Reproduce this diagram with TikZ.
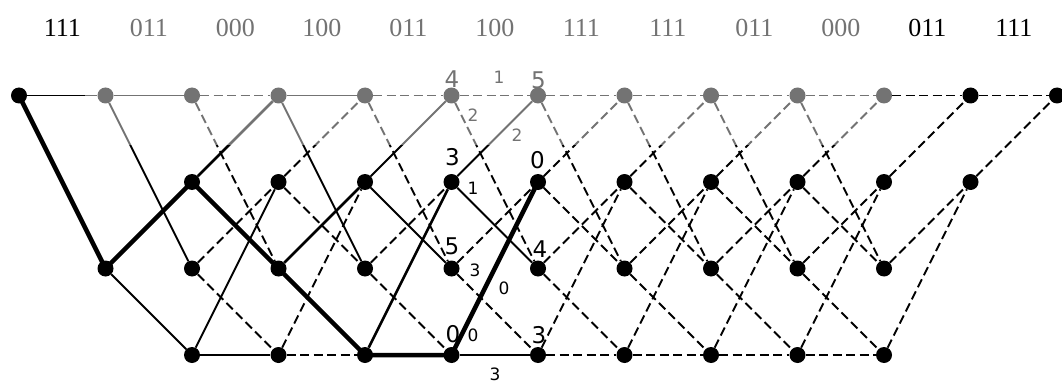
\documentclass[tikz,border=0pt]{standalone}
\usepackage{fontspec}
\setmainfont{Liberation Serif}
\newfontfamily\lblfont{DejaVu Sans}
\begin{document}
\begin{tikzpicture}[x=1pt,y=-1pt,
  dot/.style={circle,fill=black,inner sep=0pt,minimum size=16pt},
  solidedge/.style={line width=1.9pt},
  dashedge/.style={line width=1.9pt,dash pattern=on 9pt off 4.5pt},
  midedge/.style={line width=2.5pt},
  pathedge/.style={line width=4.5pt,line join=round,line cap=round},
  seq/.style={font=\fontsize{26}{26}\selectfont,inner sep=0pt},
  metric/.style={font=\lblfont\fontsize{23}{23}\selectfont,inner sep=0pt},
  branch/.style={font=\lblfont\fontsize{17}{17}\selectfont,inner sep=0pt},
  veil/.style={fill=white,opacity=0.45}
]
\useasboundingbox (0,0) rectangle (1062,385);

% trellis nodes
\node[dot] (n0-0) at (19,95.5) {};
\node[dot] (n1-0) at (105.5,95.5) {};
\node[dot] (n1-2) at (105.5,268.5) {};
\foreach \c in {2,...,10}
  \foreach \r in {0,...,3}
    \node[dot] (n\c-\r) at ({19+86.5*\c},{95.5+86.5*\r}) {};
\node[dot] (n11-0) at (970.5,95.5) {};
\node[dot] (n11-1) at (970.5,182) {};
\node[dot] (n12-0) at (1057,95.5) {};

% stage 0 -> 1
\draw[solidedge] (n0-0) -- (n1-0);
% stage 1 -> 2
\draw[solidedge] (n1-0) -- (n2-0);
\draw[solidedge] (n1-0) -- (n2-2);
\draw[solidedge] (n1-2) -- (n2-3);
% stage 2 -> 3
\draw[dashedge] (n2-0) -- (n3-0);
\draw[dashedge] (n2-0) -- (n3-2);
\draw[midedge] (n2-1) -- (n3-0);
\draw[dashedge] (n2-2) -- (n3-1);
\draw[dashedge] (n2-2) -- (n3-3);
\draw[solidedge] (n2-3) -- (n3-1);
\draw[solidedge] (n2-3) -- (n3-3);
% stage 3 -> 4
\draw[solidedge] (n3-0) -- (n4-0);
\draw[solidedge] (n3-0) -- (n4-2);
\draw[dashedge] (n3-1) -- (n4-0);
\draw[dashedge] (n3-1) -- (n4-2);
\draw[midedge] (n3-2) -- (n4-1);
\draw[dashedge] (n3-3) -- (n4-1);
\draw[dashedge] (n3-3) -- (n4-3);
% stage 4 -> 5
\draw[dashedge] (n4-0) -- (n5-0);
\draw[dashedge] (n4-0) -- (n5-2);
\draw[solidedge] (n4-1) -- (n5-0);
\draw[solidedge] (n4-1) -- (n5-2);
\draw[dashedge] (n4-2) -- (n5-1);
\draw[dashedge] (n4-2) -- (n5-3);
\draw[midedge] (n4-3) -- (n5-1);
% stage 5 -> 6
\draw[dashedge] (n5-0) -- (n6-0);
\draw[dashedge] (n5-0) -- (n6-2);
\draw[solidedge] (n5-1) -- (n6-0);
\draw[solidedge] (n5-1) -- (n6-2);
\draw[dashedge] (n5-2) -- (n6-1);
\draw[dashedge] (n5-2) -- (n6-3);
\draw[solidedge] (n5-3) -- (n6-3);
% stages 6 -> 10
\foreach \c in {6,...,9} {
  \pgfmathtruncatemacro\nx{\c+1}
  \draw[dashedge] (n\c-0) -- (n\nx-0);
  \draw[dashedge] (n\c-0) -- (n\nx-2);
  \draw[dashedge] (n\c-1) -- (n\nx-0);
  \draw[dashedge] (n\c-1) -- (n\nx-2);
  \draw[dashedge] (n\c-2) -- (n\nx-1);
  \draw[dashedge] (n\c-2) -- (n\nx-3);
  \draw[dashedge] (n\c-3) -- (n\nx-1);
  \draw[dashedge] (n\c-3) -- (n\nx-3);
}
% stage 10 -> 11 -> 12 (tail)
\draw[dashedge] (n10-0) -- (n11-0);
\draw[dashedge] (n10-1) -- (n11-0);
\draw[dashedge] (n10-2) -- (n11-1);
\draw[dashedge] (n10-3) -- (n11-1);
\draw[dashedge] (n11-0) -- (n12-0);
\draw[dashedge] (n11-1) -- (n12-0);

% survivor path
\draw[pathedge] (n0-0.center) -- (n1-2.center) -- (n2-1.center) -- (n3-2.center)
  -- (n4-3.center) -- (n5-3.center) -- (n6-1.center);

% received sequence
\foreach \t [count=\i from 0] in {111,011,000,100,011,100,111,111,011,000,011,111}
  \node[seq] (rx\i) at ({62.3+86.5*\i},28) {\t};

% path metrics
\node[metric] (pm1) at (452,79) {4};
\node[metric] (pm2) at (538.5,80) {5};
\node[metric] (pm3) at (452.5,157) {3};
\node[metric] (pm4) at (537.5,160) {0};
\node[metric] (pm5) at (452,246) {5};
\node[metric] (pm6) at (540,249) {4};
\node[metric] (pm7) at (453,334) {0};
\node[metric] (pm8) at (539,335) {3};

% branch metrics
\node[branch] (bm1) at (499,77) {1};
\node[branch] (bm2) at (473,115) {2};
\node[branch] (bm3) at (517,135) {2};
\node[branch] (bm4) at (473,188) {1};
\node[branch] (bm5) at (475,270) {3};
\node[branch] (bm6) at (504,288) {0};
\node[branch] (bm7) at (473,335) {0};
\node[branch] (bm8) at (495,374) {3};

% faded upper band
\fill[veil] (85,4) rectangle (892,145);
\end{tikzpicture}
\end{document}
